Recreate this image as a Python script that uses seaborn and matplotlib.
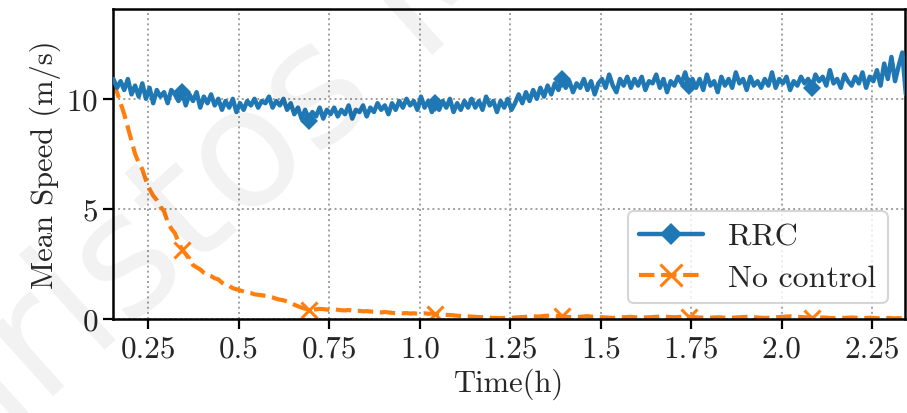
import numpy as np
import matplotlib
matplotlib.use('Agg')
import matplotlib.pyplot as plt
import seaborn as sns

# time grid (h), sampled every 0.01 h
t_start, t_end, n_pts = 0.153, 2.343, 220
marker_idx = [19, 54, 89, 124, 159, 193]

rrc = [
    10.9, 10.5, 10.8, 10.4, 10.9,
    10.2, 10.6, 10.1, 10.7, 10.0,
    10.5, 9.8, 10.4, 10.1, 10.3,
    9.8, 10.4, 10.2, 9.9, 10.3, 9.7,
    10.2, 9.9, 10.3, 9.6, 10.1, 9.8, 10.2, 9.7, 10.0,
    9.5, 9.9, 9.6, 10.0, 9.4, 9.8, 9.5, 9.9,
    9.7, 10.0, 9.6, 9.9, 9.8, 10.1, 9.6, 9.9, 9.7, 10.0,
    9.5, 9.8, 9.3, 9.6, 9.1, 9.5, 9.0, 9.4, 9.2, 9.6, 9.1, 9.5, 9.3,
    9.6, 9.2, 9.5, 9.3, 9.7, 9.1, 9.5, 9.4, 9.7, 9.2, 9.6,
    9.4, 9.8, 9.5, 9.7, 9.3, 9.8, 9.5, 9.9,
    9.6, 10.0, 9.7, 9.9, 9.5, 10.1, 9.6, 9.9, 9.4, 9.8,
    9.5, 9.9, 9.6, 10.0, 9.4, 9.8, 9.5, 9.9, 9.6,
    10.0, 9.6, 9.9, 9.5, 10.1, 9.7, 9.9, 9.4, 9.9, 9.6, 10.0, 9.5, 9.8,
    10.2, 9.8, 10.3, 9.9, 10.4, 10.0, 10.5, 10.1,
    10.6, 10.2, 10.7, 10.4, 10.9, 10.5, 10.8, 10.3, 10.7, 10.5, 10.9, 10.4, 10.8, 10.2, 10.7,
    10.9, 10.5, 11.1, 10.6, 10.3, 10.9, 10.6, 11.0,
    10.5, 10.9, 10.6, 11.0, 10.4, 10.8, 10.7, 11.1, 10.5, 10.9, 10.3, 10.8, 10.6, 11.0, 10.7, 11.2, 10.6, 10.9, 10.5,
    10.9, 10.4, 11.1, 10.6, 10.8, 10.3, 11.0, 10.6, 10.9, 10.5, 11.2, 10.7, 10.9, 10.4, 11.0, 10.6, 10.8, 10.5,
    10.9, 10.6, 11.2, 10.5, 10.9, 10.7, 11.0, 10.4,
    10.8, 10.6, 11.0, 10.7, 10.9, 10.5, 11.1, 10.8, 11.0, 10.6, 11.3, 10.7,
    10.9, 10.5, 11.1, 10.8, 10.6, 11.0, 10.7, 11.2, 10.5, 11.0, 10.8, 11.3,
    10.6, 11.6, 10.9, 11.9, 10.8, 11.5, 12.1, 10.2,
]

no_control = [
    10.7, 10.3, 9.8, 9.3, 8.7, 8.1, 7.5, 7.1, 6.8, 6.3,
    5.9, 5.6, 5.4, 5.1, 4.9, 4.4, 4.1, 3.9, 3.5, 3.15,
    2.95, 2.7, 2.45, 2.35, 2.25, 2.1, 2.0, 1.95, 1.85, 1.8,
    1.65, 1.55, 1.5, 1.4, 1.35, 1.3, 1.25, 1.2, 1.18, 1.12,
    1.1, 1.08, 1.05, 1.02, 0.98, 0.92, 0.88, 0.85, 0.8, 0.72,
    0.65, 0.58, 0.52, 0.47, 0.43,
    0.42, 0.44, 0.46, 0.45, 0.43, 0.41, 0.44, 0.42, 0.40, 0.39, 0.41, 0.38, 0.36, 0.37, 0.35, 0.36,
    0.34, 0.33, 0.31, 0.30, 0.32, 0.30, 0.28, 0.27, 0.29, 0.26, 0.27, 0.25, 0.26, 0.24, 0.25,
    0.26, 0.24, 0.25, 0.22, 0.21, 0.2, 0.19, 0.18, 0.17, 0.15, 0.14, 0.13, 0.12, 0.11, 0.1,
    0.09, 0.08, 0.07, 0.06, 0.05, 0.05, 0.04, 0.05, 0.06, 0.05, 0.07, 0.08, 0.09, 0.1, 0.12, 0.13, 0.11, 0.12,
    0.14, 0.15, 0.16, 0.15, 0.13, 0.12, 0.1, 0.09, 0.08, 0.09, 0.1, 0.12, 0.13, 0.11, 0.1, 0.09, 0.08, 0.07, 0.06, 0.05,
    0.06, 0.07, 0.08, 0.09, 0.1, 0.08, 0.07, 0.06, 0.07, 0.08, 0.09, 0.1, 0.11, 0.12, 0.1, 0.09, 0.08, 0.09, 0.1, 0.11, 0.1,
    0.09, 0.08, 0.07, 0.06, 0.05, 0.06, 0.07, 0.08, 0.07, 0.06, 0.05, 0.06, 0.07, 0.08, 0.09, 0.1, 0.09, 0.08, 0.07, 0.06, 0.05,
    0.06, 0.07, 0.08, 0.09, 0.1, 0.11, 0.12, 0.11, 0.1, 0.09, 0.08, 0.07, 0.06, 0.05, 0.06, 0.07, 0.06, 0.05, 0.04, 0.05, 0.06,
    0.05, 0.06, 0.07, 0.06, 0.05, 0.04, 0.05, 0.06, 0.05, 0.04, 0.03, 0.04, 0.05, 0.04, 0.03, 0.04, 0.03, 0.02,
]

xticks = [0.25, 0.5, 0.75, 1.0, 1.25, 1.5, 1.75, 2.0, 2.25]
xtick_labels = ['0.25', '0.5', '0.75', '1.0', '1.25', '1.5', '1.75', '2.0', '2.25']
yticks = [0, 5, 10]

t = np.linspace(t_start, t_end, n_pts)

sns.set_style('white')
plt.rcParams['font.family'] = 'serif'
plt.rcParams['font.serif'] = ['cmr10']
plt.rcParams['mathtext.fontset'] = 'cm'
plt.rcParams['axes.formatter.use_mathtext'] = True

fig = plt.figure(figsize=(9.07, 4.14), dpi=100)
ax = fig.add_axes([0.125, 0.227, 0.873, 0.75])

blue, orange = '#1f77b4', '#ff7f0e'
sns.lineplot(x=t, y=rrc, ax=ax, color=blue, lw=3.2, marker='D', markersize=9,
             markevery=marker_idx, markeredgecolor=blue, markeredgewidth=0, label='RRC', zorder=3)
sns.lineplot(x=t, y=no_control, ax=ax, color=orange, lw=3.0, linestyle='--', marker='x',
             markersize=12, markeredgewidth=2.2, markeredgecolor=orange, markevery=marker_idx,
             label='No control', zorder=2)

ax.set_xlim(t_start, 2.341)
ax.set_ylim(0, 14.1)
ax.set_xticks(xticks)
ax.set_xticklabels(xtick_labels)
ax.set_yticks(yticks)
ax.tick_params(axis='both', labelsize=22.5, direction='out', length=7, width=1.6, color='black',
               bottom=True, left=True, pad=4)
ax.grid(True, linestyle=':', color='#a0a0a0', lw=1.4)
for s in ax.spines.values():
    s.set_color('black')
    s.set_linewidth(1.8)

ax.set_xlabel('Time(h)', fontsize=22)
ax.set_ylabel('Mean Speed (m/s)', fontsize=22)

leg = ax.legend(loc='lower right', fontsize=23, frameon=True, fancybox=True, markerscale=1.3,
                bbox_to_anchor=(0.998, 0.0), borderpad=0.35, handlelength=2.0, labelspacing=0.4)
leg.get_frame().set_edgecolor('#cccccc')
leg.get_frame().set_linewidth(1.5)

# faint watermark over the plot
fig.text(-0.135, -0.34, 'Christos M', fontsize=120, family='DejaVu Sans', color='black',
         alpha=0.055, rotation=42, rotation_mode='anchor', ha='left', va='baseline', zorder=10)

fig.savefig('out.png', dpi=100)
